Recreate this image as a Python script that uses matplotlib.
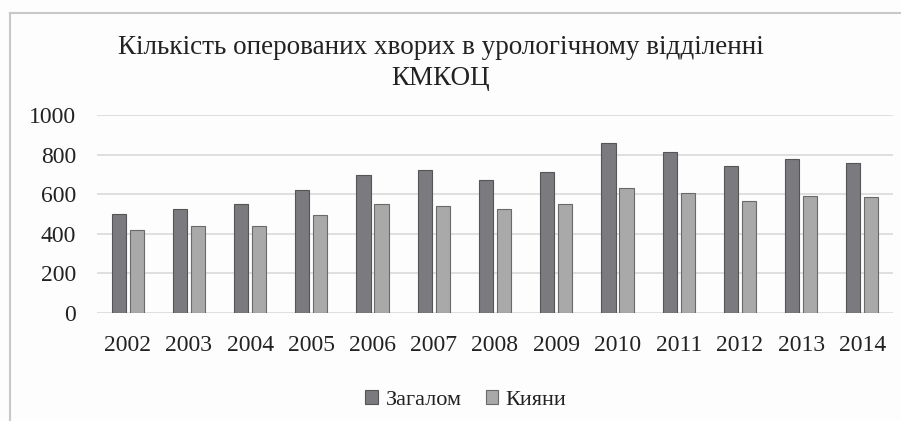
import numpy as np
import matplotlib.pyplot as plt
from matplotlib.lines import Line2D

# data
years = ['2002', '2003', '2004', '2005', '2006', '2007', '2008',
         '2009', '2010', '2011', '2012', '2013', '2014']
zagalom = [500, 525, 548, 623, 695, 720, 673, 712, 857, 815, 740, 778, 759]
kyiany = [421, 441, 441, 493, 552, 538, 525, 553, 629, 606, 566, 591, 586]
yticks = [0, 200, 400, 600, 800, 1000]
title = 'Кількість оперованих хворих в урологічному відділенні\nКМКОЦ'
series_names = ['Загалом', 'Кияни']

plt.rcParams['font.family'] = ['Liberation Serif', 'DejaVu Serif']

W, H = 901, 421
fig = plt.figure(figsize=(W / 100, H / 100), dpi=100)
fig.patch.set_facecolor('#fdfdfd')

# plot area in pixel terms
left, right, top, bottom = 97, 893, 115, 313
ax = fig.add_axes([left / W, 1 - bottom / H, (right - left) / W, (bottom - top) / H])
ax.set_facecolor('none')

x = np.arange(len(years))
bw = 0.23
off = 0.147
ax.bar(x - off, zagalom, bw, color='#7b7b7f', edgecolor='#555555', linewidth=0.8, zorder=3)
ax.bar(x + off, kyiany, bw, color='#a9a9a9', edgecolor='#6a6a6a', linewidth=0.8, zorder=3)

ax.set_xlim(-0.5, len(years) - 0.5)
ax.set_ylim(0, 1000)
ax.set_yticks(yticks)
ax.set_yticklabels([str(v) for v in yticks], fontsize=17, color='#222222')
ax.set_xticks(x)
ax.set_xticklabels(years, fontsize=17, color='#222222')
ax.tick_params(axis='both', length=0)
ax.tick_params(axis='y', pad=15)
ax.tick_params(axis='x', pad=16)
ax.grid(axis='y', color='#d9d9d9', linewidth=1.2, zorder=0)
for s in ax.spines.values():
    s.set_visible(False)

fig.text(441 / W, 1 - 63 / H, title, ha='center', va='center', fontsize=19.5,
         color='#222222', linespacing=1.3)

# legend
handles = [plt.Rectangle((0, 0), 1, 1, facecolor='#7b7b7f', edgecolor='#555555', linewidth=0.8),
           plt.Rectangle((0, 0), 1, 1, facecolor='#a9a9a9', edgecolor='#6a6a6a', linewidth=0.8)]
fig.legend(handles, series_names, loc='center', bbox_to_anchor=(466 / W, 1 - 400 / H),
           ncol=2, frameon=False, fontsize=16, handlelength=0.55, handleheight=0.55,
           handletextpad=0.35, columnspacing=1.1, labelcolor='#222222')

# outer chart border (cropped at right and bottom)
fig.add_artist(Line2D([10 / W, 10 / W], [1 - 13 / H, 0], transform=fig.transFigure,
                      color='#c8c8c8', linewidth=1.5))
fig.add_artist(Line2D([10 / W, 1], [1 - 13 / H, 1 - 13 / H], transform=fig.transFigure,
                      color='#c8c8c8', linewidth=1.5))

fig.savefig('out.png', dpi=100, facecolor=fig.get_facecolor())
